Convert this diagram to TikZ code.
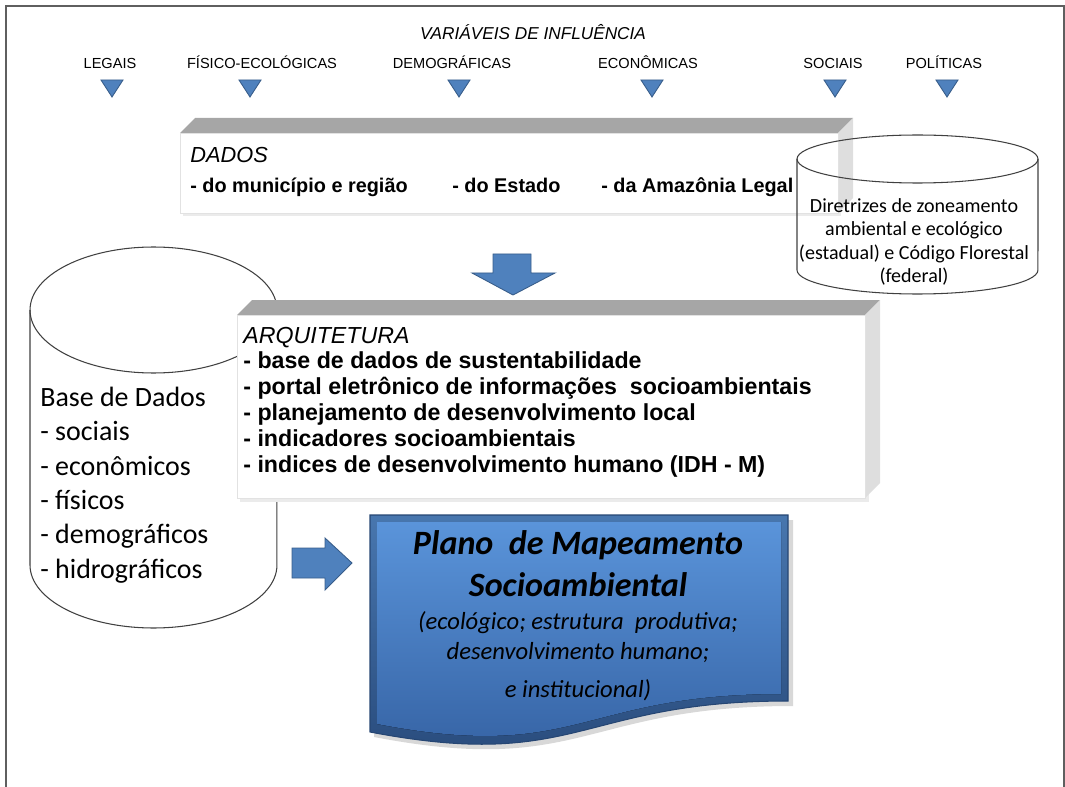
\documentclass[tikz,border=0pt]{standalone}
\usepackage{fontspec}
\setmainfont{Liberation Sans}
\newfontfamily\calibri{Carlito}
\usetikzlibrary{arrows.meta}

\definecolor{steelblue}{RGB}{79,129,189}
\definecolor{steeledge}{RGB}{56,93,138}
\definecolor{bevelgray}{RGB}{166,166,166}
\definecolor{sidegray}{RGB}{222,222,222}
\definecolor{facegray}{RGB}{226,226,226}
\definecolor{framegray}{RGB}{95,95,95}
\definecolor{planotop}{RGB}{90,148,218}
\definecolor{planobot}{RGB}{52,97,162}
\definecolor{planoedge}{RGB}{38,70,115}

\begin{document}
\begin{tikzpicture}[x=0.02cm,y=-0.02cm,
    varlabel/.style={inner sep=0, anchor=base, font=\fontsize{8.3}{10}\selectfont},
    boxtext/.style={inner sep=0, anchor=west, align=left},
    itemtext/.style={inner sep=0, anchor=base west, font=\bfseries\fontsize{11.3}{13}\selectfont},
    drop/.style={fill=steelblue, draw=steeledge, line width=0.5pt},
    can/.style={draw=black!75, line width=0.6pt}]

        \useasboundingbox (0,0) rectangle (1065,787);

        %%% FRAME
        \draw[framegray, line width=1.1pt] (6,787) -- (6,6) -- (1064,6) -- (1064,787);

        %%% VARIABLES
        \node[inner sep=0, anchor=base, font=\itshape\fontsize{9.8}{12}\selectfont] (title) at (533,40) {VARIÁVEIS DE INFLUÊNCIA};

        \node[varlabel] (legais) at (110,69) {LEGAIS};
        \node[varlabel] (fisico) at (262,69) {FÍSICO-ECOLÓGICAS};
        \node[varlabel] (demog) at (452,69) {DEMOGRÁFICAS};
        \node[varlabel] (econ) at (648,69) {ECONÔMICAS};
        \node[varlabel] (sociais) at (833,69) {SOCIAIS};
        \node[varlabel] (politicas) at (944,69) {POLÍTICAS};

        % Triangles
        \draw[drop] (101,80) -- (123,80) -- (112,97) -- cycle;
        \draw[drop] (239,80) -- (261,80) -- (250,97) -- cycle;
        \draw[drop] (448,80) -- (470,80) -- (459,97) -- cycle;
        \draw[drop] (641,80) -- (663,80) -- (652,97) -- cycle;
        \draw[drop] (824,80) -- (846,80) -- (835,97) -- cycle;
        \draw[drop] (936,80) -- (958,80) -- (947,97) -- cycle;

        %%% DADOS BOX
        \fill[black!8] (183,136) rectangle (841,216);
        \fill[bevelgray] (180,133) -- (195,118) -- (853,118) -- (838,133) -- cycle;
        \fill[sidegray] (838,133) -- (853,118) -- (853,198) -- (838,213) -- cycle;
        \draw[facegray, fill=white] (180,133) rectangle (838,213);

        \node[inner sep=0, anchor=base west, font=\itshape\fontsize{12.4}{14}\selectfont] (dadoshead) at (190,163) {DADOS};
        \node[itemtext] (dadosmun) at (190,193) {- do município e região};
        \node[itemtext] (dadosest) at (452,193) {- do Estado};
        \node[itemtext] (dadosamz) at (601,193) {- da Amazônia Legal};

        %%% RIGHT CYLINDER
        \draw[can] (797,159) -- (797,270) arc[start angle=180, end angle=360, x radius=2.41cm, y radius=0.48cm] -- (1038,159);
        \draw[can] (917.5,159) ellipse [x radius=2.41cm, y radius=0.48cm];
        \node[inner sep=0, align=center, font=\calibri\fontsize{11.4}{13.4}\selectfont] (diretrizes) at (914,242)
            {Diretrizes de zoneamento\\ambiental e ecológico\\(estadual) e Código Florestal\\(federal)};

        %%% DOWN ARROW
        \draw[drop] (493,254) -- (531,254) -- (531,273) -- (555,273) -- (513,295) -- (472,273) -- (493,273) -- cycle;

        %%% LEFT CYLINDER
        \draw[can, fill=white] (30,310) -- (30,565) arc[start angle=180, end angle=360, x radius=2.47cm, y radius=1.26cm] -- (277,310);
        \draw[can] (153.5,310) ellipse [x radius=2.47cm, y radius=1.26cm];
        \node[boxtext, font=\calibri\fontsize{15.9}{19.6}\selectfont] (basedados) at (40,485)
            {Base de Dados\\- sociais\\- econômicos\\- físicos\\- demográficos\\- hidrográficos};

        %%% ARQUITETURA BOX
        \fill[black!8] (240,319) rectangle (869,502);
        \fill[bevelgray] (237,315) -- (252,300) -- (880,300) -- (865,315) -- cycle;
        \fill[sidegray] (865,315) -- (880,300) -- (880,483) -- (865,498) -- cycle;
        \draw[facegray, fill=white] (237,315) rectangle (865,498);

        \node[boxtext, font=\bfseries\fontsize{13.2}{14.7}\selectfont] (arq) at (243,402)
            {\mdseries\itshape ARQUITETURA\\
             - base de dados de sustentabilidade\\
             - portal eletrônico de informações \ socioambientais\\
             - planejamento de desenvolvimento local\\
             - indicadores socioambientais\\
             - indices de desenvolvimento humano (IDH - M)};

        %%% RIGHT ARROW
        \draw[drop] (292,548) -- (325,548) -- (325,538) -- (352,563) -- (325,590) -- (325,578) -- (292,578) -- cycle;

        %%% PLANO (document shape)
        \fill[black!30, opacity=0.5] (374,520) -- (793,520) -- (793,706) .. controls (583,706) and (583,777) .. (374,737) -- cycle;
        \draw[planoedge, line width=0.6pt, top color=planotop!80!black, bottom color=planobot!75!black]
            (370,515) -- (788,515) -- (788,701) .. controls (579,701) and (579,772) .. (370,732) -- cycle;
        \fill[top color=planotop, bottom color=planobot]
            (377,522) -- (781,522) -- (781,694) .. controls (579,694) and (579,763) .. (377,724) -- cycle;

        \node[inner sep=0, align=center, font=\calibri\bfseries\itshape\fontsize{19.4}{23.8}\selectfont] (planotitle) at (578,564)
            {Plano \ de Mapeamento\\Socioambiental};
        \node[inner sep=0, align=center, font=\calibri\itshape\fontsize{14}{17}\selectfont] (planosub) at (578,637)
            {(ecológico; estrutura \ produtiva;\\desenvolvimento humano;};
        \node[inner sep=0, font=\calibri\itshape\fontsize{14}{17}\selectfont] (planoinst) at (578,690) {e institucional)};

\end{tikzpicture}
\end{document}
